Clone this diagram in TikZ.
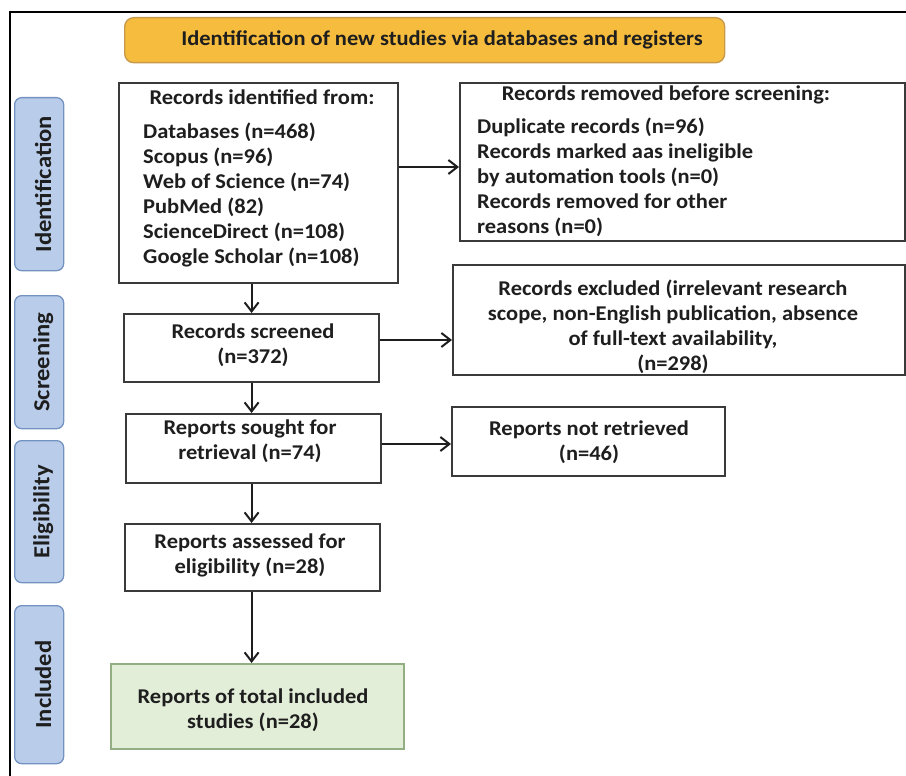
\documentclass[tikz,border=0pt]{standalone}
\usepackage{fontspec}
\setmainfont{Carlito}[FakeStretch=1.07]
\usetikzlibrary{arrows.meta,calc}
\definecolor{titlefill}{HTML}{F6BC3E}
\definecolor{titledraw}{HTML}{C89A4C}
\definecolor{sidefill}{HTML}{B9CDEA}
\definecolor{sidedraw}{HTML}{7392C2}
\definecolor{greenfill}{HTML}{E2EED8}
\definecolor{greendraw}{HTML}{93AE82}
\definecolor{boxdraw}{HTML}{3A3A3A}
\definecolor{txtcol}{HTML}{1E1E1E}
\begin{document}
\begin{tikzpicture}[x=1pt,y=-1pt,
  box/.style={draw=boxdraw, line width=2.2pt, fill=white, inner sep=0pt, anchor=north west},
  greenbox/.style={box, draw=greendraw, fill=greenfill},
  titlebox/.style={draw=titledraw, fill=titlefill, line width=1.4pt, rounded corners=9pt, inner sep=0pt, anchor=north west},
  txt/.style={font=\fontsize{21}{25}\selectfont\bfseries, inner sep=0pt, text=txtcol},
  side/.style={draw=sidedraw, fill=sidefill, line width=1.3pt, rounded corners=7pt, anchor=north west, inner sep=0pt},
  sidetxt/.style={font=\fontsize{23}{25}\selectfont\bfseries, rotate=90, inner sep=0pt, text=txtcol},
  arr/.style={draw=txtcol, line width=2pt, -{Straight Barb[length=9pt,width=14pt,line width=2pt]}},
  frameline/.style={draw=black, line width=2.2pt}]
\useasboundingbox (0,0) rectangle (906,776);
% outer frame (top and left)
\coordinate (f0) at (10,776);
\coordinate (f1) at (10,12);
\coordinate (f2) at (906,12);
\draw[frameline] (f0) -- (f1) -- (f2);

% title
\node[titlebox, minimum width=600pt, minimum height=45pt] (title) at (124,17) {};
\node[txt] (titletxt) at (442,40) {Identification of new studies via databases and registers};

% side labels
\node[side, minimum width=49pt, minimum height=173pt] (sid) at (14,97) {};
\node[sidetxt] (sidt) at ($(sid.center)+(4,0)$) {Identification};
\node[side, minimum width=49pt, minimum height=133pt] (sscr) at (14,295) {};
\node[sidetxt] (sscrt) at ($(sscr.center)+(4,0)$) {Screening};
\node[side, minimum width=49pt, minimum height=142pt] (sel) at (14,440) {};
\node[sidetxt] (selt) at ($(sel.center)+(4,0)$) {Eligibility};
\node[side, minimum width=49pt, minimum height=158pt] (sinc) at (14,605) {};
\node[sidetxt] (sinct) at ($(sinc.center)+(4,0)$) {Included};

% identification boxes
\node[box, minimum width=279pt, minimum height=200pt] (id) at (118,82) {};
\node[txt] (idh) at (262,97) {Records identified from:};
\node[txt, align=left, anchor=west] (idl) at (143,194.5) {Databases (n=468)\\Scopus (n=96)\\Web of Science (n=74)\\PubMed (82)\\ScienceDirect (n=108)\\Google Scholar (n=108)};

\node[box, minimum width=445pt, minimum height=158pt] (rem) at (459,82) {};
\node[txt] (remh) at (666,95) {Records removed before screening:};
\node[txt, align=left, anchor=west] (reml) at (477,177) {Duplicate records (n=96)\\Records marked aas ineligible\\by automation tools (n=0)\\Records removed for other\\reasons (n=0)};

% screening
\node[box, minimum width=255pt, minimum height=68pt] (scr) at (123,313) {};
\node[txt, align=center] (scrt) at (253,345) {Records screened\\(n=372)};
\node[box, minimum width=452pt, minimum height=110pt] (exc) at (452,264) {};
\node[txt, align=center] (exct) at (673,327) {Records excluded (irrelevant research\\scope, non-English publication, absence\\of full-text availability,\\(n=298)};

% eligibility
\node[box, minimum width=255pt, minimum height=69pt] (sou) at (125,413) {};
\node[txt, align=center] (sout) at (250,441) {Reports sought for\\retrieval (n=74)};
\node[box, minimum width=273pt, minimum height=69pt] (ret) at (451,406) {};
\node[txt, align=center] (rett) at (589,442) {Reports not retrieved\\(n=46)};

\node[box, minimum width=255pt, minimum height=67pt] (ass) at (124,523) {};
\node[txt, align=center] (asst) at (250,555) {Reports assessed for\\eligibility (n=28)};

% included
\node[greenbox, minimum width=293pt, minimum height=85pt] (inc) at (110,663) {};
\node[txt, align=center] (inct) at (253,710) {Reports of total included\\studies (n=28)};

% connectors
\coordinate (a1) at (0,167);
\coordinate (a2) at (0,340);
\coordinate (a3) at (0,444);
\draw[arr] (id.east |- a1) -- (rem.west |- a1);
\draw[arr] (scr.east |- a2) -- (exc.west |- a2);
\draw[arr] (sou.east |- a3) -- (ret.west |- a3);
\draw[arr] (id.south -| scr.north) -- (scr.north);
\draw[arr] (scr.south) -- (scr.south |- sou.north);
\draw[arr] (sou.south -| scr.south) -- (ass.north -| scr.south);
\draw[arr] (ass.south -| scr.south) -- (inc.north -| scr.south);
\end{tikzpicture}
\end{document}
